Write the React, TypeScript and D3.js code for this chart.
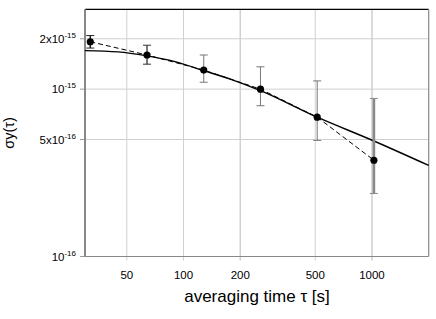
import React from 'react';
import * as d3 from 'd3';

// measured points (averaging time in s, Allan deviation)
const tau = [32, 64, 128, 256, 512, 1024];
const sigma = [1.92e-15, 1.6e-15, 1.3e-15, 1.0e-15, 0.68e-15, 0.376e-15];
const errHi = [2.09e-15, 1.83e-15, 1.6e-15, 1.36e-15, 1.12e-15, 0.88e-15];
const errLo = [1.76e-15, 1.41e-15, 1.1e-15, 0.796e-15, 0.494e-15, 0.238e-15];

// fitted curve
const fitTau = [30, 45, 64, 90, 128, 180, 256, 512, 1024, 2000];
const fitSigma = [1.7e-15, 1.67e-15, 1.58e-15, 1.46e-15, 1.29e-15, 1.14e-15, 0.98e-15, 0.68e-15, 0.49e-15, 0.35e-15];

const xTicks = [50, 100, 200, 500, 1000];
const yTicks = [1e-16, 5e-16, 1e-15, 2e-15];
const yTickBase = ['10', '5x10', '10', '2x10'];
const yTickExp = ['-16', '-16', '-15', '-15'];

const W = 436;
const H = 319;
const left = 85;
const right = 428.7;
const top = 9.3;
const bottom = 256.5;

const App = () => {
  const x = d3.scaleLog().domain([30, 2000]).range([left, right]);
  const y = d3.scaleLog().domain([1e-16, 3e-15]).range([bottom, top]);

  const dashed = d3
    .line<number>()
    .x((d, i) => x(tau[i]))
    .y((d) => y(d));

  const fit = d3
    .line<number>()
    .x((d, i) => x(fitTau[i]))
    .y((d) => y(d))
    .curve(d3.curveMonotoneX);

  const barColor = ['#222', '#333', '#777', '#777', '#777', '#888'];
  const barWidth = [1.5, 1.3, 1, 1, 1, 2.6];

  return (
    <svg
      width={W}
      height={H}
      style={{ position: 'absolute', left: 0, top: 0, background: '#fff' }}
      fontFamily="Liberation Sans, Arial, sans-serif">
      {/* grid */}
      {xTicks.map((t) => (
        <line
          key={'gx' + t}
          x1={x(t)}
          x2={x(t)}
          y1={top}
          y2={bottom + 4}
          stroke={t === 1000 ? '#b8b8b8' : '#d0d0d0'}
          strokeWidth={t === 200 ? 1.5 : 1}
        />
      ))}
      {yTicks.slice(1).map((t) => (
        <line key={'gy' + t} x1={left} x2={right} y1={y(t)} y2={y(t)} stroke="#d0d0d0" strokeWidth={1} />
      ))}
      {yTicks.map((t) => (
        <line key={'ty' + t} x1={left - 5} x2={left} y1={y(t)} y2={y(t)} stroke="#999" strokeWidth={1} />
      ))}

      {/* frame */}
      <line x1={left} x2={right} y1={top} y2={top} stroke="#000" strokeWidth={1.2} />
      <line x1={right} x2={right} y1={top} y2={bottom} stroke="#888" strokeWidth={1.2} />
      <line x1={left} x2={right} y1={bottom} y2={bottom} stroke="#888" strokeWidth={1.2} />
      <line x1={left} x2={left} y1={top} y2={bottom} stroke="#888" strokeWidth={2} />

      {/* fit */}
      <path d={fit(fitSigma) || ''} fill="none" stroke="#000" strokeWidth={1.4} />

      {/* data line */}
      <path d={dashed(sigma) || ''} fill="none" stroke="#000" strokeWidth={1} strokeDasharray="5,3" />

      {/* error bars */}
      {tau.map((t, i) => (
        <g key={'e' + t} stroke={barColor[i]}>
          <line x1={x(t)} x2={x(t)} y1={y(errHi[i])} y2={y(errLo[i])} strokeWidth={barWidth[i]} />
          <line x1={x(t) - 4} x2={x(t) + 4} y1={y(errHi[i])} y2={y(errHi[i])} strokeWidth={1} />
          <line x1={x(t) - 4} x2={x(t) + 4} y1={y(errLo[i])} y2={y(errLo[i])} strokeWidth={1} />
        </g>
      ))}

      {tau.map((t, i) => (
        <circle key={'p' + t} cx={x(t)} cy={y(sigma[i])} r={3.6} fill="#000" />
      ))}

      {/* y tick labels */}
      {yTicks.map((t, i) => (
        <text key={'ly' + t} x={76} y={y(t) + 4} textAnchor="end" fontSize={11.5} fill="#000">
          {yTickBase[i]}
          <tspan fontSize={8} dy={-5}>
            {yTickExp[i]}
          </tspan>
        </text>
      ))}

      {/* x tick labels */}
      {xTicks.map((t) => (
        <text key={'lx' + t} x={x(t)} y={279} textAnchor="middle" fontSize={11.5} fill="#000">
          {t}
        </text>
      ))}

      <text x={257} y={302} textAnchor="middle" fontSize={17} fill="#000">
        averaging time τ [s]
      </text>

      <text transform="translate(14,133) rotate(-90)" textAnchor="middle" fontSize={14.5} fill="#000">
        σy(τ)
      </text>
    </svg>
  );
};

export default App;
